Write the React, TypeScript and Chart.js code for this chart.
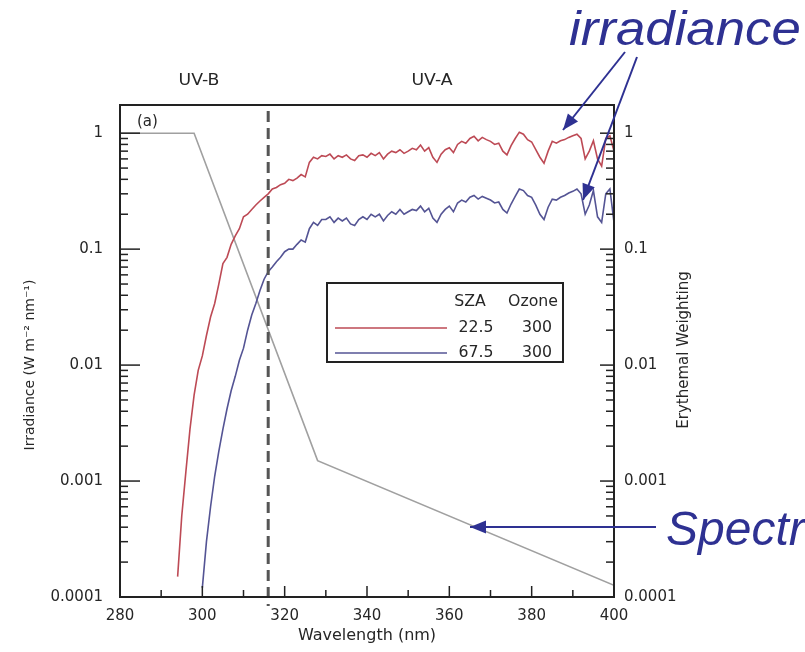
import { useEffect, useRef } from "react";
import { Chart, registerables } from "chart.js";
Chart.register(...registerables);

// ---- data ----
const redWl = [294, 295, 296, 297, 298, 299, 300, 301, 302, 303, 304, 305, 306, 307, 308, 309, 310, 311, 312, 313, 314, 315, 316, 317, 318, 319, 320, 321, 322, 323, 324, 325, 326, 327, 328, 329, 330, 331, 332, 333, 334, 335, 336, 337, 338, 339, 340, 341, 342, 343, 344, 345, 346, 347, 348, 349, 350, 351, 352, 353, 354, 355, 356, 357, 358, 359, 360, 361, 362, 363, 364, 365, 366, 367, 368, 369, 370, 371, 372, 373, 374, 375, 376, 377, 378, 379, 380, 381, 382, 383, 384, 385, 386, 387, 388, 389, 390, 391, 392, 393, 394, 395, 396, 397, 398, 399, 400];
const redVal = [0.00015, 0.0005, 0.0012, 0.0028, 0.0055, 0.009, 0.012, 0.018, 0.026, 0.034, 0.05, 0.075, 0.085, 0.11, 0.13, 0.15, 0.19, 0.2, 0.22, 0.24, 0.26, 0.28, 0.3, 0.33, 0.34, 0.36, 0.37, 0.4, 0.39, 0.41, 0.44, 0.42, 0.56, 0.62, 0.6, 0.64, 0.63, 0.66, 0.6, 0.64, 0.62, 0.65, 0.6, 0.58, 0.64, 0.65, 0.62, 0.67, 0.64, 0.68, 0.6, 0.66, 0.7, 0.68, 0.72, 0.67, 0.7, 0.74, 0.72, 0.79, 0.7, 0.75, 0.62, 0.56, 0.66, 0.72, 0.75, 0.68, 0.8, 0.85, 0.82, 0.9, 0.94, 0.86, 0.92, 0.88, 0.85, 0.8, 0.82, 0.7, 0.65, 0.78, 0.9, 1.02, 0.98, 0.88, 0.84, 0.72, 0.62, 0.55, 0.7, 0.85, 0.82, 0.86, 0.88, 0.92, 0.95, 0.98, 0.9, 0.6, 0.7, 0.86, 0.6, 0.52, 0.9, 0.95, 0.7];

const blueWl = [300, 301, 302, 303, 304, 305, 306, 307, 308, 309, 310, 311, 312, 313, 314, 315, 316, 317, 318, 319, 320, 321, 322, 323, 324, 325, 326, 327, 328, 329, 330, 331, 332, 333, 334, 335, 336, 337, 338, 339, 340, 341, 342, 343, 344, 345, 346, 347, 348, 349, 350, 351, 352, 353, 354, 355, 356, 357, 358, 359, 360, 361, 362, 363, 364, 365, 366, 367, 368, 369, 370, 371, 372, 373, 374, 375, 376, 377, 378, 379, 380, 381, 382, 383, 384, 385, 386, 387, 388, 389, 390, 391, 392, 393, 394, 395, 396, 397, 398, 399, 400];
const blueVal = [0.00012, 0.0003, 0.0006, 0.0011, 0.0018, 0.0028, 0.0042, 0.006, 0.008, 0.011, 0.014, 0.02, 0.027, 0.034, 0.044, 0.055, 0.064, 0.07, 0.078, 0.085, 0.095, 0.1, 0.1, 0.11, 0.12, 0.115, 0.15, 0.17, 0.16, 0.18, 0.18, 0.19, 0.17, 0.185, 0.175, 0.185, 0.165, 0.16, 0.18, 0.19, 0.18, 0.2, 0.19, 0.2, 0.175, 0.195, 0.21, 0.2, 0.22, 0.2, 0.21, 0.22, 0.215, 0.235, 0.21, 0.225, 0.185, 0.17, 0.2, 0.22, 0.235, 0.21, 0.25, 0.265, 0.255, 0.28, 0.29, 0.27, 0.285, 0.275, 0.265, 0.25, 0.255, 0.22, 0.205, 0.245, 0.285, 0.33, 0.32, 0.29, 0.28, 0.24, 0.2, 0.18, 0.23, 0.27, 0.265, 0.28, 0.29, 0.305, 0.315, 0.33, 0.3, 0.2, 0.24, 0.32, 0.19, 0.17, 0.3, 0.33, 0.17];

const eryWl = [280, 298, 328, 400];
const eryVal = [1, 1, 0.0015, 0.000126];

const xTickValues = [280, 300, 320, 340, 360, 380, 400];
const yDecades = [0.0001, 0.001, 0.01, 0.1, 1];
const yTickLabels = ["0.0001", "0.001", "0.01", "0.1", "1"];
const legendSza = ["22.5", "67.5"];
const legendOzone = ["300", "300"];
const seriesNames = ["SZA 22.5", "SZA 67.5", "Erythemal weighting"];
const boundaryWl = 316;

const FONT = "'DejaVu Sans', 'Liberation Sans', Arial, sans-serif";
const AFONT = "'Liberation Sans', Arial, Helvetica, sans-serif";
const TXT = "#262626";
const RED = "#bd4a55";
const BLUE = "#545494";
const GRAY = "#a0a0a0";
const ANNO = "#2e3192";

function arrow(ctx: CanvasRenderingContext2D, x1: number, y1: number, x2: number, y2: number) {
  ctx.beginPath();
  ctx.moveTo(x1, y1);
  ctx.lineTo(x2, y2);
  ctx.stroke();
  const a = Math.atan2(y2 - y1, x2 - x1);
  const L = 16, W = 6.5;
  ctx.beginPath();
  ctx.moveTo(x2, y2);
  ctx.lineTo(x2 - L * Math.cos(a) + W * Math.sin(a), y2 - L * Math.sin(a) - W * Math.cos(a));
  ctx.lineTo(x2 - L * Math.cos(a) - W * Math.sin(a), y2 - L * Math.sin(a) + W * Math.cos(a));
  ctx.closePath();
  ctx.fill();
}

function stretchText(ctx: CanvasRenderingContext2D, text: string, x: number, y: number, sx: number, rot = 0) {
  ctx.save();
  ctx.translate(x, y);
  if (rot) ctx.rotate(rot);
  ctx.scale(sx, 1);
  ctx.fillText(text, 0, 0);
  ctx.restore();
}

const decorPlugin = {
  id: "decor",
  afterDraw(chart: any) {
    const { ctx, chartArea } = chart;
    const { left, right, top, bottom } = chartArea;
    const xs = chart.scales.x;
    const ys = chart.scales.y;
    ctx.save();

    // dashed UV-B / UV-A boundary
    const bx = xs.getPixelForValue(boundaryWl);
    ctx.strokeStyle = "#555";
    ctx.lineWidth = 3;
    ctx.setLineDash([11, 6]);
    ctx.beginPath();
    ctx.moveTo(bx, top + 6);
    ctx.lineTo(bx, bottom + 9);
    ctx.stroke();
    ctx.setLineDash([]);

    // frame
    ctx.strokeStyle = "#222";
    ctx.lineWidth = 2;
    ctx.strokeRect(left, top, right - left, bottom - top);

    // x ticks (inward)
    ctx.lineWidth = 1.5;
    for (let v = 280; v <= 400; v += 10) {
      const px = xs.getPixelForValue(v);
      const len = v % 20 === 0 ? 11 : 7;
      ctx.beginPath();
      ctx.moveTo(px, bottom);
      ctx.lineTo(px, bottom - len);
      ctx.stroke();
    }
    // y ticks (inward) on both sides
    const yMax = ys.max;
    for (const d of yDecades) {
      for (let k = 1; k <= 9; k++) {
        const v = d * k;
        if (v > yMax || (d === 1 && k > 1)) continue;
        const py = ys.getPixelForValue(v);
        const major = k === 1;
        ctx.beginPath();
        ctx.moveTo(left, py);
        ctx.lineTo(left + (major ? 20 : 8), py);
        ctx.stroke();
        ctx.beginPath();
        ctx.moveTo(right, py);
        ctx.lineTo(right - (major ? 14 : 8), py);
        ctx.stroke();
      }
    }

    // region labels
    ctx.fillStyle = TXT;
    ctx.font = `15px ${FONT}`;
    ctx.textAlign = "center";
    ctx.textBaseline = "middle";
    stretchText(ctx, "UV-B", 199, 81, 1.15);
    stretchText(ctx, "UV-A", 432, 81, 1.15);
    ctx.font = `15px ${FONT}`;
    ctx.textAlign = "left";
    ctx.fillText("(a)", left + 17, top + 17);

    // axis titles (y)
    ctx.textAlign = "center";
    ctx.font = `14px ${FONT}`;
    stretchText(ctx, "Irradiance (W m\u207B\u00B2 nm\u207B\u00B9)", 30, 365, 1.0, -Math.PI / 2);
    ctx.font = `15px ${FONT}`;
    stretchText(ctx, "Erythemal Weighting", 684, 350, 1.0, -Math.PI / 2);

    // legend box
    const lx = 327, ly = 283, lw = 236, lh = 79;
    ctx.fillStyle = "#fff";
    ctx.fillRect(lx, ly, lw, lh);
    ctx.strokeStyle = "#222";
    ctx.lineWidth = 2;
    ctx.strokeRect(lx, ly, lw, lh);
    ctx.fillStyle = TXT;
    ctx.font = `15px ${FONT}`;
    ctx.textAlign = "center";
    stretchText(ctx, "SZA", 470, 302, 1.05);
    stretchText(ctx, "Ozone", 533, 302, 1.05);
    const rowY = [328, 353];
    const rowCol = [RED, BLUE];
    for (let i = 0; i < 2; i++) {
      ctx.strokeStyle = rowCol[i];
      ctx.lineWidth = 1.6;
      ctx.beginPath();
      ctx.moveTo(335, rowY[i]);
      ctx.lineTo(447, rowY[i]);
      ctx.stroke();
      ctx.fillStyle = TXT;
      stretchText(ctx, legendSza[i], 476, rowY[i], 1.05);
      stretchText(ctx, legendOzone[i], 537, rowY[i], 1.05);
    }

    // annotations
    ctx.fillStyle = ANNO;
    ctx.strokeStyle = ANNO;
    ctx.font = `italic 48px ${AFONT}`;
    ctx.textAlign = "left";
    ctx.textBaseline = "alphabetic";
    stretchText(ctx, "irradiance", 569, 45, 1.1);
    ctx.fillText("Spectrum", 666, 545);
    ctx.lineWidth = 2;
    arrow(ctx, 625, 52, 563, 130);
    arrow(ctx, 637, 57, 583, 200);
    arrow(ctx, 656, 527, 470, 527);

    ctx.restore();
  },
};

export default function App() {
  const ref = useRef<HTMLCanvasElement | null>(null);
  useEffect(() => {
    if (!ref.current) return;
    const tickFont = { size: 15, family: FONT };
    const decadeLabel = (v: any) => {
      const i = yDecades.findIndex((d) => Math.abs(d - Number(v)) / d < 1e-6);
      return i >= 0 ? yTickLabels[i] : "";
    };
    const chart = new Chart(ref.current, {
      type: "line",
      data: {
        datasets: [
          {
            label: seriesNames[0],
            data: redWl.map((x, i) => ({ x, y: redVal[i] })),
            borderColor: RED,
            borderWidth: 1.6,
            pointRadius: 0,
            yAxisID: "y",
          },
          {
            label: seriesNames[1],
            data: blueWl.map((x, i) => ({ x, y: blueVal[i] })),
            borderColor: BLUE,
            borderWidth: 1.6,
            pointRadius: 0,
            yAxisID: "y",
          },
          {
            label: seriesNames[2],
            data: eryWl.map((x, i) => ({ x, y: eryVal[i] })),
            borderColor: GRAY,
            borderWidth: 1.6,
            pointRadius: 0,
            yAxisID: "y2",
          },
        ],
      },
      options: {
        responsive: false,
        animation: false,
        layout: { padding: { top: 105, left: 0, right: 0, bottom: 0 } },
        plugins: { legend: { display: false }, tooltip: { enabled: false } },
        scales: {
          x: {
            type: "linear",
            min: 280,
            max: 400,
            grid: { display: false, drawTicks: false },
            border: { display: false },
            afterBuildTicks: (s: any) => {
              s.ticks = xTickValues.map((value) => ({ value }));
            },
            ticks: { font: tickFont, color: TXT, padding: 10, autoSkip: false, maxRotation: 0 },
            title: {
              display: true,
              text: "Wavelength (nm)",
              font: { size: 16, family: FONT },
              color: TXT,
              padding: { top: 0, bottom: 7 },
            },
            afterFit: (s: any) => {
              s.height = 55;
            },
          },
          y: {
            type: "logarithmic",
            position: "left",
            min: 0.0001,
            max: 1.75,
            grid: { display: false, drawTicks: false },
            border: { display: false },
            afterBuildTicks: (s: any) => {
              s.ticks = yDecades.map((value) => ({ value }));
            },
            ticks: { font: tickFont, color: TXT, padding: 17, callback: decadeLabel, autoSkip: false },
            afterFit: (s: any) => {
              s.width = 120;
            },
          },
          y2: {
            type: "logarithmic",
            position: "right",
            min: 0.0001,
            max: 1.75,
            grid: { display: false, drawTicks: false },
            border: { display: false },
            afterBuildTicks: (s: any) => {
              s.ticks = yDecades.map((value) => ({ value }));
            },
            ticks: { font: tickFont, color: TXT, padding: 10, callback: decadeLabel, autoSkip: false },
            afterFit: (s: any) => {
              s.width = 191;
            },
          },
        },
      },
      plugins: [decorPlugin],
    } as any);
    return () => chart.destroy();
  }, []);
  return (
    <div style={{ position: "fixed", left: 0, top: 0, width: 805, height: 652, background: "#fff" }}>
      <canvas ref={ref} width={805} height={652} />
    </div>
  );
}
